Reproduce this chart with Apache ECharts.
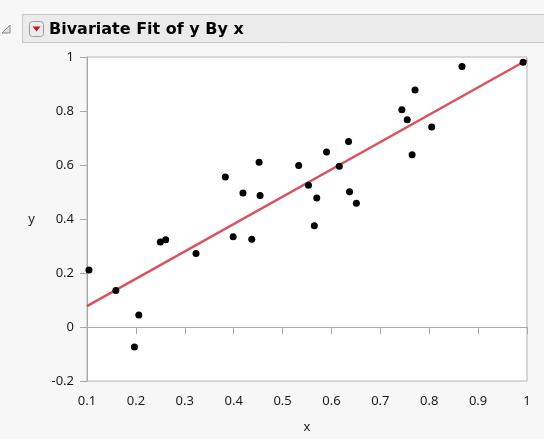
<!DOCTYPE html>
<html>
<head>
<meta charset="utf-8">
<script src="https://cdn.jsdelivr.net/npm/echarts@6/dist/echarts.min.js"></script>
<style>
  html, body { margin: 0; padding: 0; background: #f7f7f7; }
  #chart { width: 544px; height: 439px; }
</style>
</head>
<body>
<div id="chart"></div>
<script>
// Observations
const xValues = [0.104, 0.159, 0.206, 0.197, 0.250, 0.261, 0.323, 0.399, 0.437, 0.383,
                 0.452, 0.419, 0.454, 0.533, 0.590, 0.635, 0.616, 0.553, 0.570, 0.637,
                 0.651, 0.565, 0.867, 0.992, 0.771, 0.744, 0.755, 0.805, 0.765];
const yValues = [0.211, 0.135, 0.044, -0.074, 0.315, 0.323, 0.272, 0.334, 0.325, 0.556,
                 0.610, 0.496, 0.487, 0.598, 0.648, 0.687, 0.595, 0.525, 0.478, 0.501,
                 0.458, 0.375, 0.965, 0.981, 0.878, 0.805, 0.768, 0.741, 0.638];

// Linear fit: y = intercept + slope * x
const fitIntercept = -0.024;
const fitSlope = 1.013;

// Axis ranges
const xRange = [0.1, 1];
const yRange = [-0.2, 1];

const points = xValues.map((x, i) => [x, yValues[i]]);
const fitLine = xRange.map(x => [x, fitIntercept + fitSlope * x]);

const fmt = v => String(parseFloat(v.toFixed(1)));
const labelFont = { fontFamily: 'Noto Sans', fontSize: 13, color: '#1a1a1a' };

const chart = echarts.init(document.getElementById('chart'), null, { renderer: 'canvas' });
chart.setOption({
  backgroundColor: '#f7f7f7',
  animation: false,
  grid: {
    left: 87, right: 17, top: 57, bottom: 52,
    show: true, backgroundColor: '#ffffff', borderColor: '#b4b4b4', borderWidth: 1
  },
  xAxis: {
    type: 'value', min: xRange[0], max: xRange[1], interval: 0.1,
    name: 'x', nameLocation: 'middle', nameGap: 40,
    nameTextStyle: labelFont,
    axisLine: { show: true, lineStyle: { color: '#a8a8a8' } },
    axisTick: { show: true, inside: false, length: 7, lineStyle: { color: '#a8a8a8' } },
    axisLabel: Object.assign({ margin: 14, formatter: fmt }, labelFont),
    splitLine: { show: false }
  },
  yAxis: {
    type: 'value', min: yRange[0], max: yRange[1], interval: 0.2,
    name: 'y', nameLocation: 'middle', nameGap: 52, nameRotate: 0,
    nameTextStyle: labelFont,
    axisLine: { show: true, lineStyle: { color: '#a8a8a8' } },
    axisTick: { show: true, inside: false, length: 7, lineStyle: { color: '#a8a8a8' } },
    axisLabel: Object.assign({ margin: 13, formatter: fmt }, labelFont),
    splitLine: { show: false }
  },
  series: [
    {
      type: 'line', data: fitLine, showSymbol: false, z: 2,
      lineStyle: { color: '#d9535f', width: 2.5 }
    },
    {
      type: 'scatter', data: points, symbol: 'circle', symbolSize: 7, z: 3,
      itemStyle: { color: '#000000', opacity: 1 }
    }
  ],
  graphic: [
    { type: 'rect', shape: { x: 22.5, y: 14.5, width: 540, height: 28 },
      style: { fill: '#ebebeb', stroke: '#c8c8c8', lineWidth: 1 } },
    { type: 'polygon', shape: { points: [[10, 25], [10, 33], [2, 33]] },
      style: { fill: '#e0e0e0', stroke: '#8a8a8a', lineWidth: 1 } },
    { type: 'rect', shape: { x: 29.5, y: 21.5, width: 14, height: 15, r: 3 },
      style: { fill: '#ececec', stroke: '#9a9a9a', lineWidth: 1 } },
    { type: 'polygon', shape: { points: [[32.5, 26.5], [40.5, 26.5], [36.5, 31.5]] },
      style: { fill: '#d0101a' } },
    { type: 'text', x: 49, y: 29.5,
      style: { text: 'Bivariate Fit of y By x', fontFamily: 'DejaVu Sans', fontWeight: 'bold',
               fontSize: 16, fill: '#000', textVerticalAlign: 'middle' } }
  ]
});
</script>
</body>
</html>
